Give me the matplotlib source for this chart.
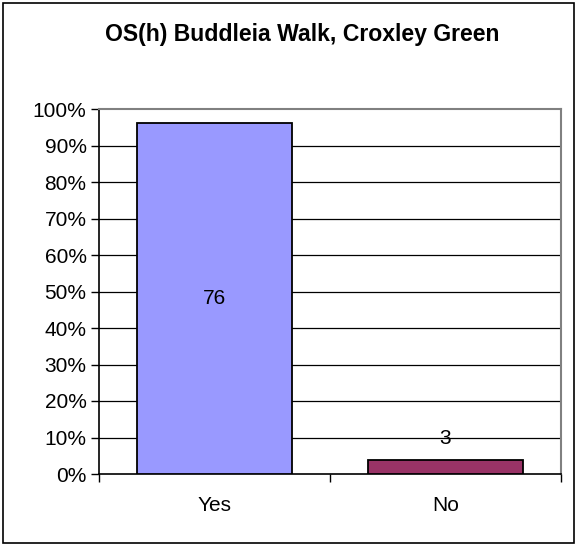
import matplotlib
matplotlib.use("Agg")
import matplotlib.pyplot as plt
from matplotlib.patches import Rectangle
from matplotlib.ticker import FuncFormatter, MultipleLocator

title = "OS(h) Buddleia Walk, Croxley Green"
categories = ["Yes", "No"]
counts = [76, 3]
colors = ["#9999FF", "#993366"]

total = sum(counts)
shares = [c / total * 100 for c in counts]

plt.rcParams['font.family'] = ['Liberation Sans', 'DejaVu Sans']

W, H = 577, 546
fig = plt.figure(figsize=(W / 100, H / 100), dpi=100)
ax = fig.add_axes([99 / W, 1 - 474 / H, (561 - 99) / W, (474 - 109) / H])

x = list(range(len(categories)))
bars = ax.bar(x, shares, width=0.67, color=colors, edgecolor="black", linewidth=1.3, zorder=3)

ax.set_xlim(-0.5, len(categories) - 0.5)
ax.set_ylim(0, 100)
ax.yaxis.set_major_locator(MultipleLocator(10))
ax.yaxis.set_major_formatter(FuncFormatter(lambda v, p: f"{int(round(v))}%"))
for v in range(10, 100, 10):
    ax.axhline(v, color="black", linewidth=0.9, zorder=1)

ax.set_xticks([i - 0.5 for i in range(len(categories) + 1)])
ax.set_xticklabels([""] * (len(categories) + 1))
ax.set_xticks(x, minor=True)
ax.set_xticklabels(categories, minor=True)
ax.tick_params(axis="x", which="major", direction="out", length=6, width=1, colors="black")
ax.tick_params(axis="x", which="minor", length=0, pad=16, labelsize=15)
ax.tick_params(axis="y", direction="out", length=6, width=1, pad=3, labelsize=15)

for s in ["top", "right"]:
    ax.spines[s].set_color("#808080")
    ax.spines[s].set_linewidth(1.5)
for s in ["left", "bottom"]:
    ax.spines[s].set_color("black")
    ax.spines[s].set_linewidth(1.2)

# data labels
ax.text(x[0], shares[0] / 2, str(counts[0]), ha="center", va="center", fontsize=15, zorder=4)
ax.annotate(str(counts[1]), (x[1], shares[1]), xytext=(0, 22), textcoords="offset pixels",
            ha="center", va="center", fontsize=15, zorder=4)

fig.text(302 / W, 1 - 41 / H, title, ha="center", va="baseline", fontsize=16.6, fontweight="bold")

fig.patches.append(Rectangle((3 / W, 3 / H), (574 - 3) / W, (543 - 3) / H, transform=fig.transFigure,
                             fill=False, edgecolor="black", linewidth=1.2))

fig.savefig("out.png", dpi=100)
